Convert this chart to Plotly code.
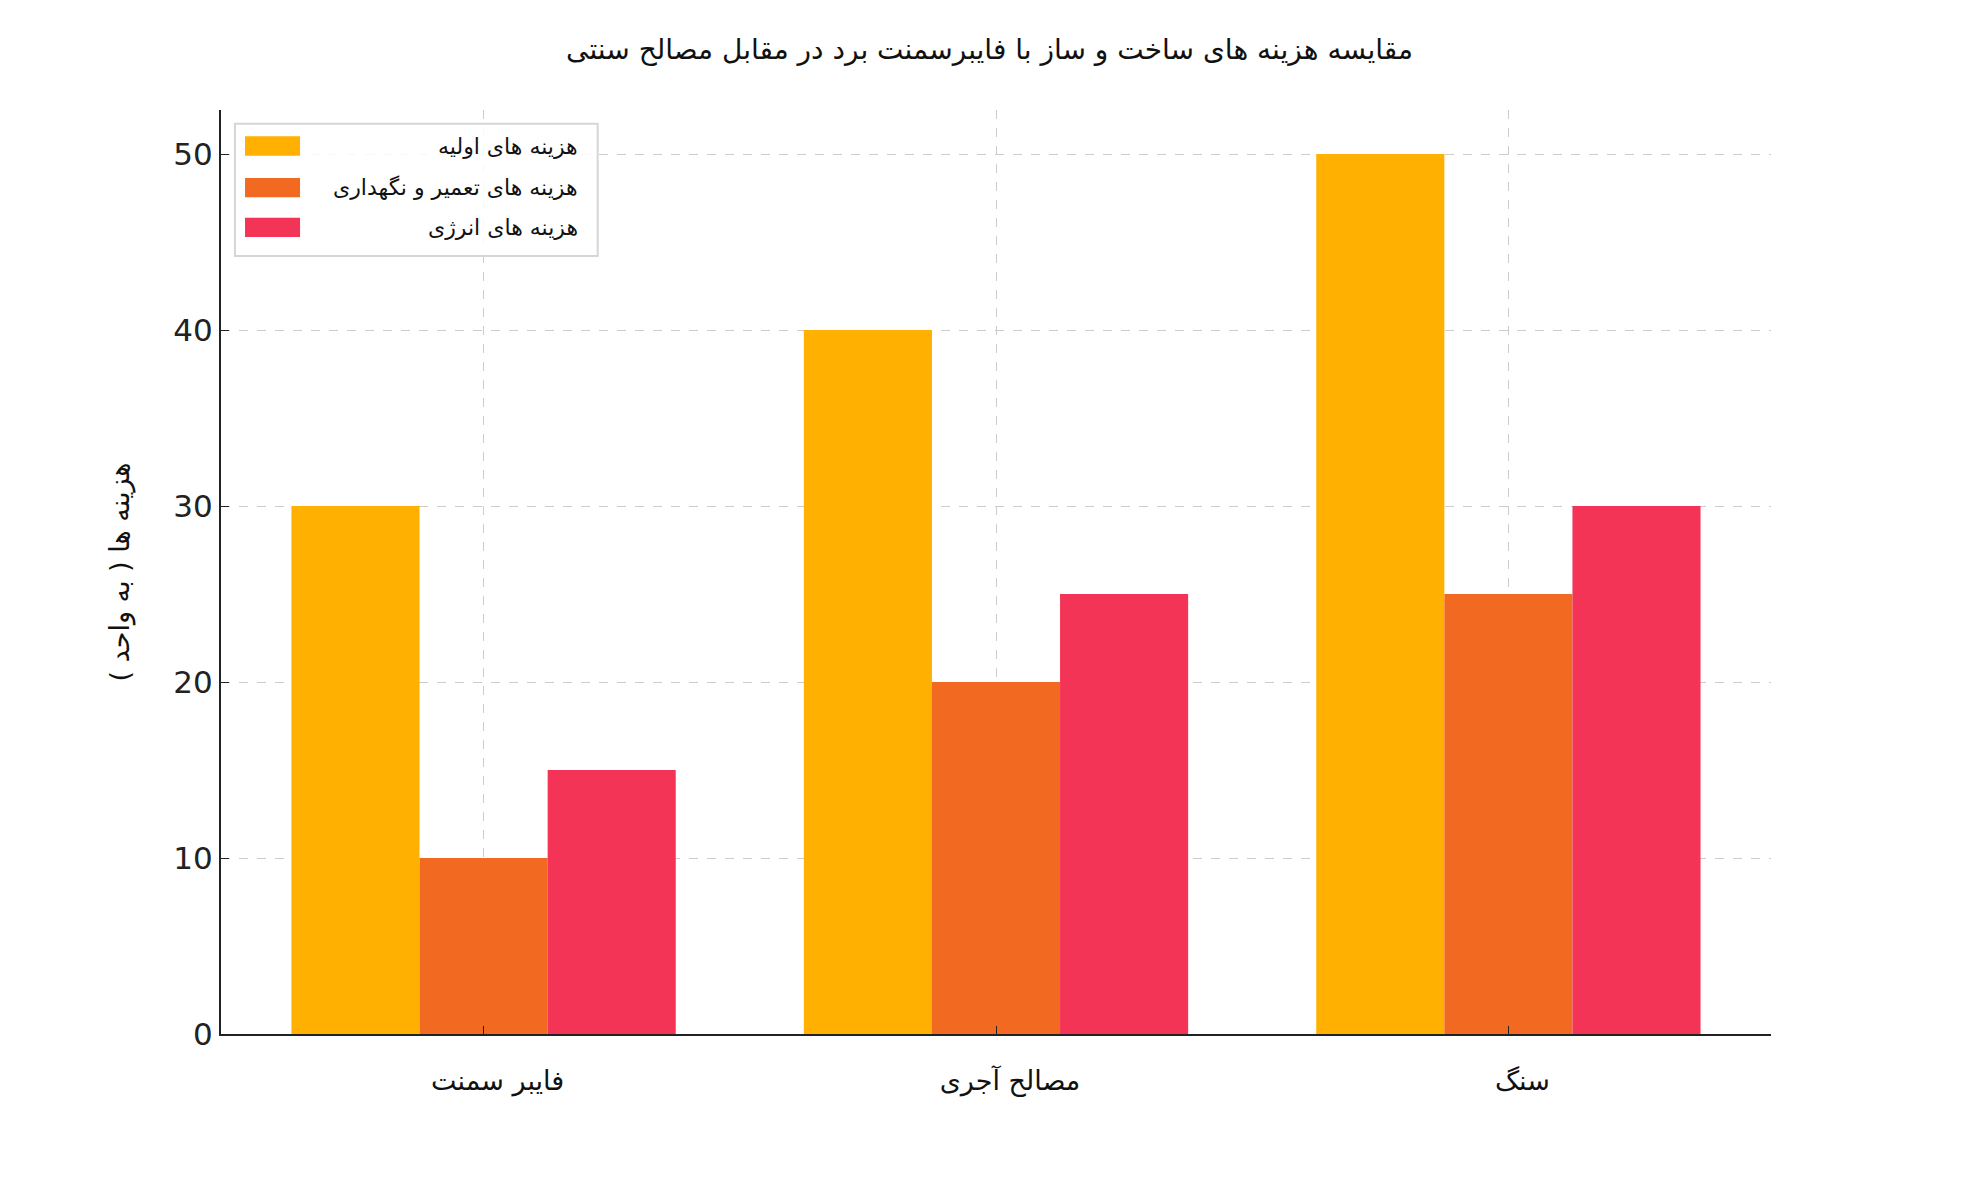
import plotly.graph_objects as go

categories = ["فایبر سمنت", "مصالح آجری", "سنگ"]
series_names = ["هزینه های اولیه", "هزینه های تعمیر و نگهداری", "هزینه های انرژی"]
initial_costs = [30, 40, 50]
maintenance_costs = [10, 20, 25]
energy_costs = [15, 25, 30]
colors = ["#FFB000", "#F26A22", "#F43456"]

title_text = "مقایسه هزینه های ساخت و ساز با فایبرسمنت برد در مقابل مصالح سنتی"
y_title = "هزینه ها ( به واحد )"
y_ticks = [0, 10, 20, 30, 40, 50]

FONT = "DejaVu Sans"
x_pos = list(range(len(categories)))

fig = go.Figure()
for name, vals, col in zip(series_names, [initial_costs, maintenance_costs, energy_costs], colors):
    fig.add_trace(go.Bar(x=x_pos, y=vals, name=name, marker=dict(color=col, line=dict(width=0)),
                         showlegend=False))

# custom legend (RTL-style, text right aligned)
shapes = [dict(type="rect", xref="paper", yref="paper", x0=0.009, x1=0.243, y0=0.842, y1=0.985,
               line=dict(color="#d6d6d6", width=2), fillcolor="rgba(255,255,255,0.85)", layer="above")]
annotations = []
row_y = [0.961, 0.916, 0.873]
for name, col, yy in zip(series_names, colors, row_y):
    shapes.append(dict(type="rect", xref="paper", yref="paper", x0=0.0155, x1=0.051,
                       y0=yy - 0.0105, y1=yy + 0.0105, fillcolor=col, line=dict(width=0), layer="above"))
    annotations.append(dict(xref="paper", yref="paper", x=0.2316, y=yy, text=name, showarrow=False,
                            xanchor="right", yanchor="middle", font=dict(family=FONT, size=22, color="#111")))

fig.update_layout(
    barmode="group", bargap=0.25, bargroupgap=0,
    width=1979, height=1180,
    margin=dict(l=221, r=208, t=110, b=146),
    paper_bgcolor="white", plot_bgcolor="white",
    title=dict(text=title_text, x=0.5, xanchor="center", y=1 - 49 / 1180, yanchor="middle",
               font=dict(family=FONT, size=28, color="#111")),
    shapes=shapes, annotations=annotations,
    font=dict(family=FONT),
)
fig.update_xaxes(range=[-0.5125, 2.5125], tickvals=x_pos, ticktext=categories,
                 showgrid=True, gridcolor="#cccccc", griddash="dash", gridwidth=1,
                 showline=True, linecolor="#222", linewidth=2, ticks="inside", ticklen=8,
                 tickcolor="#222", tickfont=dict(family=FONT, size=27, color="#111"), zeroline=False,
                 ticklabelstandoff=22, ticklabelshift=14)
fig.update_yaxes(range=[0, 52.5], tickvals=y_ticks,
                 showgrid=True, gridcolor="#cccccc", griddash="dash", gridwidth=1,
                 showline=True, linecolor="#222", linewidth=2, ticks="inside", ticklen=8,
                 tickcolor="#222", tickfont=dict(family=FONT, size=31, color="#222"), zeroline=False,
                 title=dict(text=y_title, font=dict(family=FONT, size=27, color="#111"), standoff=36))

fig.write_html("out.html")
